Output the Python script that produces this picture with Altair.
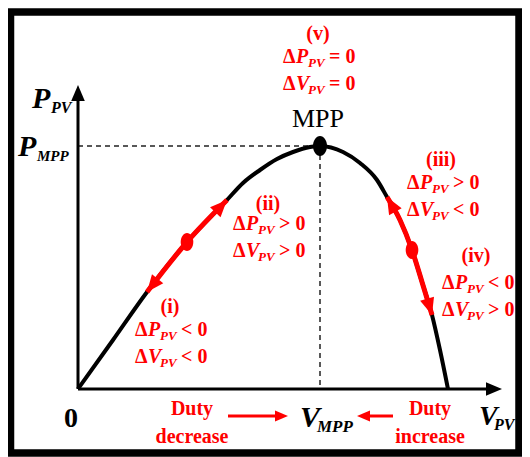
import altair as alt
import numpy as np
import pandas as pd

# ---------------- data (diagram units: V to the right, P upward; axes corner = 0,0) -------------
curve_v = [0, 35, 69, 109, 149, 165, 182, 199, 215, 232, 242, 265, 282, 299, 309, 322, 334, 344, 354, 362, 370]
curve_p = [0, 49, 97, 147, 189, 206, 219, 230, 237, 242, 243, 237, 226, 209, 192, 169, 139, 107, 74, 39, 0]

mpp_v, mpp_p = 242, 243
axis_tip_v, axis_tip_p = 424, 304

# red perturbation segments along the curve (V ranges), operating points, arrow tips
segment_lo = [69, 309]
segment_hi = [149, 354]
dot_v = [109, 334]
dot_p = [147, 139]
tip_v = [149, 69, 309, 354]
tip_p = [189, 97, 192, 74]
back_v = [109, 109, 322, 344]
back_p = [147, 147, 169, 107]

# case annotations
case_tag = ["(v)", "(ii)", "(i)", "(iii)", "(iv)"]
tag_v = [240, 190, 92, 363, 398]
tag_p = [349, 179, 76, 223, 127]
cond_v = [205, 155, 57, 329, 364]
cond_p = [326, 159, 53, 200, 100]
dp_rel = ["=", ">", "<", ">", "<"]
dv_rel = ["=", ">", "<", "<", ">"]

# axis labels
axis_sym = ["P", "P", "V", "V"]
axis_sub = ["PV", "MPP", "MPP", "PV"]
axis_sym_v = [-46, -60, 222, 401]
axis_sym_p = [281, 233, -38, -36]
axis_sym_size = [30, 30, 30, 28]
axis_sub_size = [16, 15, 17, 16]
axis_sub_dx = [19, 19, 17, 15]
origin_label = "0"
origin_label_v, origin_label_p = -7, -38
mpp_label = "MPP"
mpp_label_v, mpp_label_p = 240, 262

# duty-cycle notes
duty_line1 = ["Duty", "Duty"]
duty_line2 = ["decrease", "increase"]
duty_v = [114, 352]
duty_p = [-26, -54]
duty_arrow_from = [150, 315]
duty_arrow_to = [210, 279]
duty_arrow_p = -27

# frame
frame_v = [-67.5, 441]
frame_p = [-64, 377]

RED = "#ff0000"
W, H = 514, 449
xs = alt.Scale(domain=[-70, 444], nice=False, zero=False)
ys = alt.Scale(domain=[-68, 381], nice=False, zero=False)
ARROW = "M0,0L0.85,2L-0.85,2Z"
ELLIPSE = "M-0.7,0A0.7,1,0,1,1,0.7,0A0.7,1,0,1,1,-0.7,0Z"
FONT = "Liberation Serif"


def X(f="v"):
    return alt.X(f"{f}:Q", scale=xs, axis=None)


def Y(f="p"):
    return alt.Y(f"{f}:Q", scale=ys, axis=None)


# frame
frame = alt.Chart(pd.DataFrame({"v": [frame_v[0]], "v2": [frame_v[1]],
                                "p": [frame_p[1]], "p2": [frame_p[0]]})).mark_rect(
    fillOpacity=0, stroke="black", strokeWidth=7.5).encode(
    x=X(), x2=alt.X2("v2:Q"), y=Y(), y2=alt.Y2("p2:Q"))

# dashed guides to MPP
dash_df = pd.DataFrame({"v": [0, mpp_v], "p": [mpp_p, mpp_p], "v2": [mpp_v, mpp_v], "p2": [mpp_p, 0]})
dashes = alt.Chart(dash_df).mark_rule(strokeDash=[5, 4], strokeWidth=1.5, color="#222").encode(
    x=X(), y=Y(), x2=alt.X2("v2:Q"), y2=alt.Y2("p2:Q"))

# axes
axes_df = pd.DataFrame({"v": [0, 0], "p": [0, 0], "v2": [axis_tip_v - 14, 0], "p2": [0, axis_tip_p - 14]})
axes = alt.Chart(axes_df).mark_rule(strokeWidth=3, color="black").encode(
    x=X(), y=Y(), x2=alt.X2("v2:Q"), y2=alt.Y2("p2:Q"))
axis_heads_df = pd.DataFrame({"v": [axis_tip_v, 0], "p": [0, axis_tip_p], "angle": [90, 0]})
axis_heads = alt.Chart(axis_heads_df).mark_point(
    shape=ARROW, filled=True, opacity=1, color="black", size=256, strokeWidth=0).encode(
    x=X(), y=Y(), angle=alt.Angle("angle:Q", scale=None))

# P-V curve
curve_df = pd.DataFrame({"v": curve_v, "p": curve_p})
curve = alt.Chart(curve_df).mark_line(color="black", strokeWidth=4, interpolate="monotone").encode(
    x=X(), y=Y(), order="v:Q")

seg_rows = []
for i, (lo, hi) in enumerate(zip(segment_lo, segment_hi)):
    for v, p in zip(curve_v, curve_p):
        if lo <= v <= hi:
            seg_rows.append({"v": v, "p": p, "seg": i})
red_seg = alt.Chart(pd.DataFrame(seg_rows)).mark_line(
    color=RED, strokeWidth=5, interpolate="monotone").encode(
    x=X(), y=Y(), detail="seg:N", order="v:Q")

tv, tp, bv, bp = map(np.array, (tip_v, tip_p, back_v, back_p))
ang = np.degrees(np.arctan2(tv - bv, tp - bp)) % 360
red_heads = alt.Chart(pd.DataFrame({"v": tip_v, "p": tip_p, "angle": ang})).mark_point(
    shape=ARROW, filled=True, opacity=1, color=RED, size=289, strokeWidth=0).encode(
    x=X(), y=Y(), angle=alt.Angle("angle:Q", scale=None))

red_dots = alt.Chart(pd.DataFrame({"v": dot_v, "p": dot_p})).mark_point(
    shape=ELLIPSE, filled=True, opacity=1, color=RED, size=324, strokeWidth=0).encode(x=X(), y=Y())
mpp_dot = alt.Chart(pd.DataFrame({"v": [mpp_v], "p": [mpp_p]})).mark_point(
    shape=ELLIPSE, filled=True, opacity=1, color="black", size=400, strokeWidth=0).encode(x=X(), y=Y())

# duty arrows
da_rows, dh_rows = [], []
for a, b in zip(duty_arrow_from, duty_arrow_to):
    s = 1 if b > a else -1
    da_rows.append({"v": a, "v2": b - s * 9, "p": duty_arrow_p})
    dh_rows.append({"v": b, "p": duty_arrow_p, "angle": 90 if s > 0 else 270})
duty_lines = alt.Chart(pd.DataFrame(da_rows)).mark_rule(color=RED, strokeWidth=3).encode(
    x=X(), x2=alt.X2("v2:Q"), y=Y())
duty_heads = alt.Chart(pd.DataFrame(dh_rows)).mark_point(
    shape=ARROW, filled=True, opacity=1, color=RED, size=169, strokeWidth=0).encode(
    x=X(), y=Y(), angle=alt.Angle("angle:Q", scale=None))

# ---------------- texts ----------------
rows = []


def add(kind, v, p, text, size, color):
    rows.append(dict(kind=kind, v=v, p=p, text=text, size=size, color=color))


for tag, tgv, tgp, cv, cp, r1, r2 in zip(case_tag, tag_v, tag_p, cond_v, cond_p, dp_rel, dv_rel):
    add("ub_c", tgv, tgp, tag, 20, RED)
    for var, rel, p0 in (("P", r1, cp), ("V", r2, cp - 27)):
        add("ub_l", cv, p0, "Δ", 20, RED)
        add("ib_l", cv + 13, p0, var, 20, RED)
        add("ib_l", cv + 25, p0 - 4, "PV", 13, RED)
        add("ub_l", cv + 46, p0, f"{rel} 0", 20, RED)

for sym, sub, sv, sp, sz, ss, sdx in zip(axis_sym, axis_sub, axis_sym_v, axis_sym_p,
                                         axis_sym_size, axis_sub_size, axis_sub_dx):
    add("ib_l", sv, sp, sym, sz, "black")
    add("ib_l", sv + sdx, sp - 5, sub, ss, "black")

add("ub_c", origin_label_v, origin_label_p, origin_label, 28, "black")
add("un_c", mpp_label_v, mpp_label_p, mpp_label, 26, "black")
for w1, w2, dv in zip(duty_line1, duty_line2, duty_v):
    add("ub_c", dv, duty_p[0], w1, 20, RED)
    add("ub_c", dv, duty_p[1], w2, 20, RED)

text_df = pd.DataFrame(rows)
styles = {
    "ub_c": dict(fontStyle="normal", fontWeight="bold", align="center"),
    "ub_l": dict(fontStyle="normal", fontWeight="bold", align="left"),
    "ib_l": dict(fontStyle="italic", fontWeight="bold", align="left"),
    "un_c": dict(fontStyle="normal", fontWeight="normal", align="center"),
}
text_layers = []
for kind, st in styles.items():
    text_layers.append(
        alt.Chart(text_df[text_df["kind"] == kind]).mark_text(
            font=FONT, baseline="alphabetic", **st).encode(
            x=X(), y=Y(), text="text:N",
            size=alt.Size("size:Q", scale=None),
            color=alt.Color("color:N", scale=None)))

chart = alt.layer(
    frame, dashes, axes, axis_heads, curve, red_seg, red_heads, red_dots, mpp_dot,
    duty_lines, duty_heads, *text_layers
).properties(
    width=W, height=H, padding=0, autosize="none", background="white"
).configure_view(stroke=None)

chart.save("out.html", embed_options={"renderer": "svg", "actions": False})
